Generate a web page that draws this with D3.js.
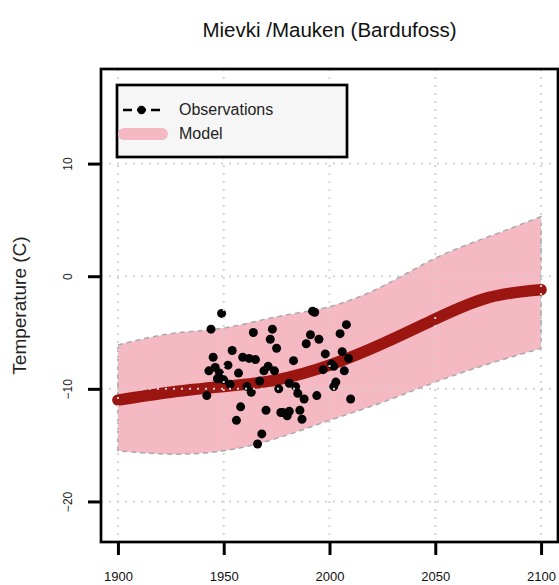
<!DOCTYPE html>
<html>
<head>
<meta charset="utf-8">
<script src="https://cdn.jsdelivr.net/npm/d3@7"></script>
<style>
  body { margin: 0; background: #fff; }
  svg text { font-family: "Liberation Sans", Arial, sans-serif; }
</style>
</head>
<body>
<div id="chart"></div>
<script>
// model envelope, every 25 years
const modelYears = [1900, 1925, 1950, 1975, 2000, 2025, 2050, 2075, 2100];
const modelMid   = [-11.0, -10.3, -9.8, -9.2, -7.9, -6.0, -3.8, -1.9, -1.2];
const modelUpper = [-6.1, -5.1, -4.6, -3.6, -2.7, -0.9, 1.6, 3.5, 5.3];
const modelLower = [-15.5, -15.8, -15.5, -14.4, -12.8, -11.2, -9.4, -7.8, -6.4];

// observed annual means (estimated from the dots)
const obsYears = [1949, 1992, 1993, 1944, 1964, 1973, 2008, 1972, 1991, 1995,
                  2005, 1989, 1975, 1954, 1945, 1959, 1962, 1965, 1983, 1998,
                  2006, 2009, 1952, 1946, 1943, 1948, 1957, 1969, 1971, 1974,
                  1997, 2002, 2007, 1947, 1950, 1953, 1967, 1961, 1963, 1976,
                  1981, 1984, 1985, 1988, 1994, 2003, 2002, 1942, 2010, 1958,
                  1970, 1977, 1980, 1981, 1986, 1987, 1956, 1968, 1966, 1978, 2001];
const obsTemps = [-3.3, -3.1, -3.2, -4.7, -5.0, -4.7, -4.3, -5.6, -5.2, -5.6,
                  -5.1, -6.0, -6.4, -6.6, -7.2, -7.2, -7.3, -7.4, -7.5, -6.9,
                  -6.7, -7.3, -7.9, -8.1, -8.4, -8.6, -8.6, -8.4, -8.0, -8.4,
                  -8.3, -8.0, -8.4, -9.1, -9.2, -9.6, -9.3, -9.8, -10.3, -10.0,
                  -9.5, -9.8, -10.4, -10.9, -10.6, -9.4, -9.8, -10.6, -10.9, -11.6,
                  -11.9, -12.1, -12.4, -12.0, -11.9, -12.7, -12.8, -14.0, -14.9, -12.1, -7.8];

const xTicks = [1900, 1950, 2000, 2050, 2100];
const yTicks = [-20, -10, 0, 10];

const width = 559, height = 585;
const plotL = 101, plotR = 558, plotT = 69, plotB = 542;

const x = d3.scaleLinear().domain([1892, 2108]).range([plotL, plotR]);
const y = d3.scaleLinear().domain([-23.6, 18.4]).range([plotB, plotT]);

const svg = d3.select('#chart').append('svg')
    .attr('width', width)
    .attr('height', height);

svg.append('text')
    .attr('x', (plotL + plotR) / 2)
    .attr('y', 37)
    .attr('text-anchor', 'middle')
    .attr('font-size', 20.5)
    .attr('fill', '#111')
    .text('Mievki /Mauken (Bardufoss)');

svg.append('text')
    .attr('transform', `translate(26, ${(plotT + plotB) / 2}) rotate(-90)`)
    .attr('text-anchor', 'middle')
    .attr('font-size', 19)
    .attr('fill', '#222')
    .text('Temperature (C)');

const model = modelYears.map((yr, i) => ({year: yr, mid: modelMid[i], hi: modelUpper[i], lo: modelLower[i]}));

// band
const band = d3.area()
    .x(d => x(d.year))
    .y0(d => y(d.lo))
    .y1(d => y(d.hi))
    .curve(d3.curveNatural);

svg.append('path')
    .datum(model)
    .attr('d', band)
    .attr('fill', '#f5b9c3')
    .attr('stroke', '#a9a9a9')
    .attr('stroke-width', 1.5)
    .attr('stroke-dasharray', '5,4');

// central model line
svg.append('path')
    .datum(model)
    .attr('d', d3.line().x(d => x(d.year)).y(d => y(d.mid)).curve(d3.curveNatural))
    .attr('fill', 'none')
    .attr('stroke', '#9b1610')
    .attr('stroke-width', 11.5)
    .attr('stroke-linecap', 'round');

// observations
const obs = obsYears.map((yr, i) => ({year: yr, temp: obsTemps[i]}));
svg.selectAll('circle.obs')
    .data(obs)
    .enter()
    .append('circle')
        .attr('class', 'obs')
        .attr('cx', d => x(d.year))
        .attr('cy', d => y(d.temp))
        .attr('r', 4.5)
        .attr('fill', '#050505');

// dotted grid goes on top, like abline() after the plot
const grid = svg.append('g')
    .attr('stroke', '#d3d3d3')
    .attr('stroke-width', 2)
    .attr('stroke-dasharray', '2,6');

grid.selectAll('line.v')
    .data(xTicks)
    .enter()
    .append('line')
        .attr('x1', d => x(d)).attr('x2', d => x(d))
        .attr('y1', plotT).attr('y2', plotB);

grid.selectAll('line.h')
    .data(yTicks)
    .enter()
    .append('line')
        .attr('x1', plotL).attr('x2', plotR)
        .attr('y1', d => y(d)).attr('y2', d => y(d));

// axes
const xAxis = svg.append('g')
    .attr('transform', `translate(0, ${plotB})`)
    .call(d3.axisBottom(x).tickValues(xTicks).tickSize(13).tickFormat(d3.format('d')));

const yAxis = svg.append('g')
    .attr('transform', `translate(${plotL}, 0)`)
    .call(d3.axisLeft(y).tickValues(yTicks).tickSize(13).tickFormat(d => d < 0 ? '\u2212' + Math.abs(d) : d));

[xAxis, yAxis].forEach(a => {
    a.select('.domain').remove();
    a.selectAll('.tick line').attr('stroke', '#000').attr('stroke-width', 3);
});

xAxis.selectAll('.tick text')
    .attr('y', 0)
    .attr('dy', 0)
    .attr('transform', 'translate(0, 39)')
    .attr('font-size', 13)
    .attr('fill', '#111');

yAxis.selectAll('.tick text')
    .attr('x', 0)
    .attr('dy', 0)
    .attr('text-anchor', 'middle')
    .attr('transform', 'translate(-29, 0) rotate(-90)')
    .attr('font-size', 12)
    .attr('fill', '#222');

// plot frame
svg.append('rect')
    .attr('x', plotL)
    .attr('y', plotT)
    .attr('width', plotR - plotL)
    .attr('height', plotB - plotT)
    .attr('fill', 'none')
    .attr('stroke', '#000')
    .attr('stroke-width', 2.7);

// legend
const leg = svg.append('g');
leg.append('rect')
    .attr('x', 117).attr('y', 85)
    .attr('width', 230).attr('height', 72)
    .attr('fill', '#f6f6f6')
    .attr('stroke', '#000')
    .attr('stroke-width', 2.7);

leg.append('line')
    .attr('x1', 123).attr('x2', 160)
    .attr('y1', 110).attr('y2', 110)
    .attr('stroke', '#000')
    .attr('stroke-width', 2.5)
    .attr('stroke-dasharray', '9,5');
leg.append('circle')
    .attr('cx', 141.5).attr('cy', 110)
    .attr('r', 4.2)
    .attr('fill', '#000');

leg.append('line')
    .attr('x1', 124).attr('x2', 162)
    .attr('y1', 134).attr('y2', 134)
    .attr('stroke', '#f5b9c3')
    .attr('stroke-width', 12)
    .attr('stroke-linecap', 'round');

leg.selectAll('text')
    .data(['Observations', 'Model'])
    .enter()
    .append('text')
        .attr('x', 179)
        .attr('y', (d, i) => 115 + i * 24)
        .attr('font-size', 16)
        .attr('fill', '#222')
        .text(d => d);
</script>
</body>
</html>
